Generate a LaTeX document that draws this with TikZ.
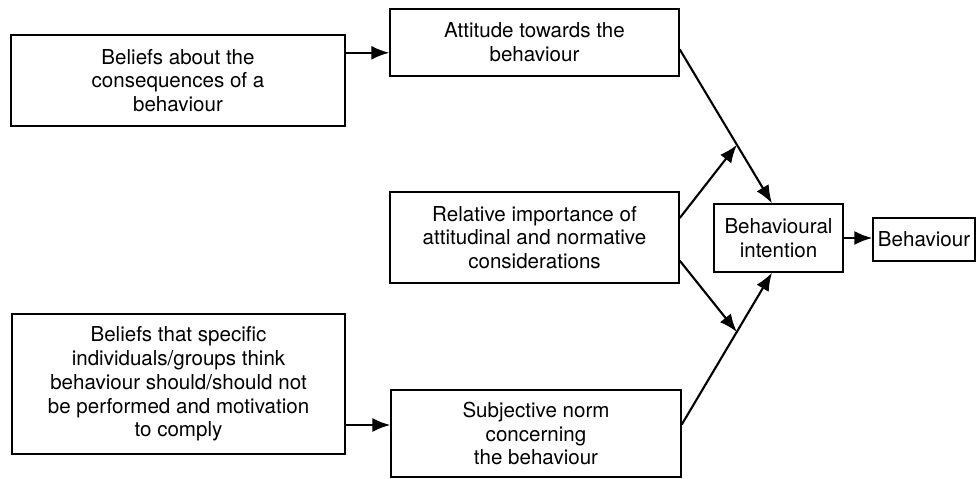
\documentclass[tikz,border=0pt]{standalone}
\usepackage{fontspec}
\setmainfont{TeX Gyre Heros}
\usetikzlibrary{arrows.meta,calc}
\tikzset{
  boite/.style={draw, line width=0.8pt, align=center, inner sep=0pt,
    font=\fontsize{11.7}{13.5}\selectfont},
  fleche/.style={line width=1.2pt, -{Latex[length=3.6mm,width=2.8mm]}}
}
\begin{document}
\begin{tikzpicture}[x=0.02cm, y=-0.02cm]
  \useasboundingbox (0,0) rectangle (976,479);
  % Croyances (colonne de gauche)
  \node[boite, minimum width=6.68cm, minimum height=1.82cm] (croy) at (178,80.5)
    {Beliefs about the\\consequences of a\\behaviour};
  \node[boite, minimum width=6.66cm, minimum height=2.80cm] (norm) at (178.5,384)
    {Beliefs that specific\\individuals/groups think\\behaviour should/should not\\be performed and motivation\\to comply};
  % Colonne du milieu
  \node[boite, minimum width=5.78cm, minimum height=1.34cm] (att) at (534.5,42.5)
    {Attitude towards the\\behaviour};
  \node[boite, minimum width=5.78cm, minimum height=1.82cm] (poids) at (534.5,237.5)
    {Relative importance of\\attitudinal and normative\\considerations};
  \node[boite, minimum width=5.80cm, minimum height=1.74cm] (subj) at (536,433.5)
    {Subjective norm\\concerning\\the behaviour};
  % Intention et comportement
  \node[boite, minimum width=2.58cm, minimum height=1.36cm] (inten) at (778.5,238)
    {Behavioural\\intention};
  \node[boite, minimum width=2.04cm, minimum height=0.86cm] (comp) at (924,239.5)
    {Behaviour};
  % Points de depart et d'arrivee
  \coordinate (c1) at ($(croy.north east)!0.2!(croy.south east)$);
  \coordinate (n1) at ($(norm.north east)!0.79!(norm.south east)$);
  \coordinate (a1) at ($(att.north east)!0.6!(att.south east)$);
  \coordinate (s1) at ($(subj.north east)!0.4!(subj.south east)$);
  \coordinate (i1) at ($(inten.north west)!0.45!(inten.north east)$);
  \coordinate (i2) at ($(inten.south west)!0.45!(inten.south east)$);
  \coordinate (p1) at ($(poids.north east)!0.29!(poids.south east)$);
  \coordinate (p2) at ($(poids.north east)!0.75!(poids.south east)$);
  % Fleches
  \draw[fleche] (c1) -- (c1 -| att.west);
  \draw[fleche] (n1) -- (n1 -| subj.west);
  \draw[fleche] (a1) -- coordinate[pos=0.62] (m1) (i1);
  \draw[fleche] (s1) -- coordinate[pos=0.61] (m2) (i2);
  \draw[fleche] (p1) -- (m1);
  \draw[fleche] (p2) -- (m2);
  \draw[fleche] (inten.east) -- (inten.east -| comp.west);
\end{tikzpicture}
\end{document}
